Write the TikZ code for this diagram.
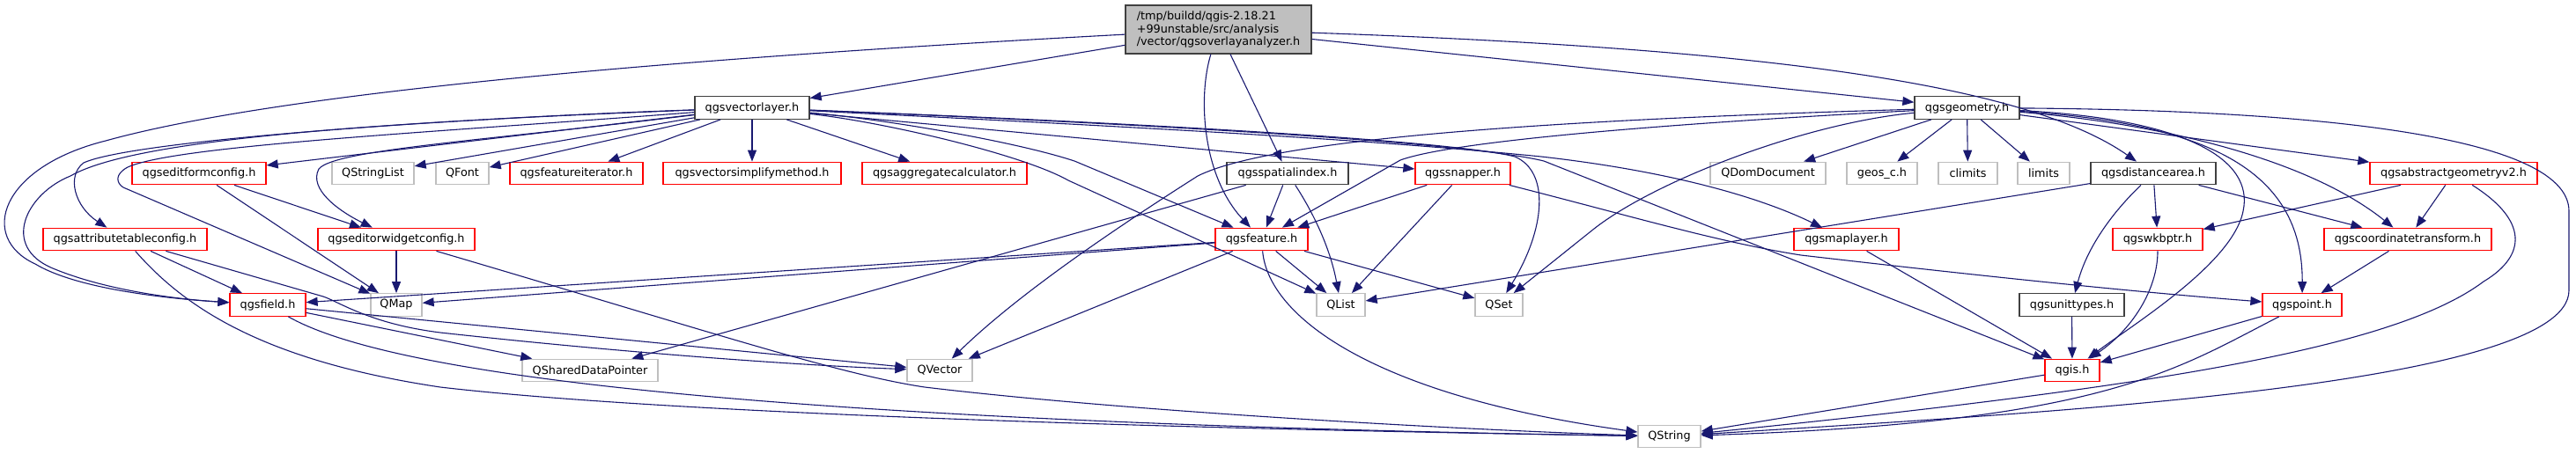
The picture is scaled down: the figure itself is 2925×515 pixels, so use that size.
\documentclass[tikz,border=0pt]{standalone}
\usepackage{fontspec}
\setmainfont{DejaVu Sans}
\usetikzlibrary{arrows.meta}
\definecolor{edgecol}{RGB}{25,25,112}
\definecolor{greyb}{RGB}{191,191,191}
\definecolor{darkb}{RGB}{64,64,64}
\definecolor{redb}{RGB}{255,0,0}
\begin{document}
\begin{tikzpicture}[x=1pt,y=-1pt,
  box/.style={draw, rectangle, inner xsep=3pt, inner ysep=0pt, minimum height=25.5pt, line width=1.3pt, fill=white, font=\fontsize{12.8}{15}\selectfont, text=black},
  rbox/.style={box, draw=redb},
  gbox/.style={box, draw=greyb},
  bbox/.style={box, draw=darkb},
  dep/.style={draw=edgecol, line width=1.1pt, -{Triangle[length=13pt,width=10pt]}}]
\useasboundingbox (0,0) rectangle (2925,515);
% nodes
\node[bbox, fill=greyb, minimum width=211pt, minimum height=55pt, align=left, font=\fontsize{12.8}{14.5}\selectfont] (main) at (1383.5,33.5) {/tmp/buildd/qgis-2.18.21\\+99unstable/src/analysis\\/vector/qgsoverlayanalyzer.h};
\node[bbox, minimum width=130pt] (vl) at (854,122.5) {qgsvectorlayer.h};
\node[bbox, minimum width=119pt] (geom) at (2233.5,122.5) {qgsgeometry.h};
\node[rbox, minimum width=152pt] (efc) at (226,197) {qgseditformconfig.h};
\node[gbox, minimum width=93pt] (qsl) at (423.5,197) {QStringList};
\node[gbox, minimum width=60pt] (qfont) at (525,197) {QFont};
\node[rbox, minimum width=151pt] (fit) at (654.5,197) {qgsfeatureiterator.h};
\node[rbox, minimum width=202pt] (vsm) at (854,197) {qgsvectorsimplifymethod.h};
\node[rbox, minimum width=187pt] (agg) at (1072.5,197) {qgsaggregatecalculator.h};
\node[bbox, minimum width=138pt] (sidx) at (1462,197) {qgsspatialindex.h};
\node[rbox, minimum width=108pt] (snap) at (1661,197) {qgssnapper.h};
\node[gbox, minimum width=131pt] (qdom) at (2007.5,197) {QDomDocument};
\node[gbox, minimum width=80pt] (geos) at (2137,197) {geos\_c.h};
\node[gbox, minimum width=67pt] (climits) at (2234.5,197) {climits};
\node[gbox, minimum width=59pt] (limits) at (2320.5,197) {limits};
\node[bbox, minimum width=142pt] (dist) at (2445,197) {qgsdistancearea.h};
\node[rbox, minimum width=190pt] (agv2) at (2786,197) {qgsabstractgeometryv2.h};
\node[rbox, minimum width=186pt] (atc) at (142,272) {qgsattributetableconfig.h};
\node[rbox, minimum width=178pt] (ewc) at (450,272) {qgseditorwidgetconfig.h};
\node[rbox, minimum width=105pt] (feat) at (1432.5,272) {qgsfeature.h};
\node[rbox, minimum width=119pt] (mapl) at (2096.5,272) {qgsmaplayer.h};
\node[rbox, minimum width=102pt] (wkb) at (2450,272) {qgswkbptr.h};
\node[rbox, minimum width=190pt] (ct) at (2734,272) {qgscoordinatetransform.h};
\node[rbox, minimum width=86pt] (field) at (304,346.5) {qgsfield.h};
\node[gbox, minimum width=58pt] (qmap) at (450,346.5) {QMap};
\node[gbox, minimum width=55pt] (qlist) at (1522.5,346.5) {QList};
\node[gbox, minimum width=54pt] (qset) at (1702,346.5) {QSet};
\node[bbox, minimum width=119pt] (ut) at (2352.5,346.5) {qgsunittypes.h};
\node[rbox, minimum width=90pt] (pt) at (2614,346.5) {qgspoint.h};
\node[gbox, minimum width=154pt] (qsdp) at (670,421) {QSharedDataPointer};
\node[gbox, minimum width=74pt] (qvec) at (1067,421) {QVector};
\node[rbox, minimum width=62pt] (qgis) at (2353,421) {qgis.h};
\node[gbox, minimum width=71pt] (qstr) at (1895.5,496) {QString};
% main
\draw[dep] (main) -- (vl);
\draw[dep] (main) -- (geom);
\draw[dep] (main) .. controls (1360,110) and (1365,200) .. (feat);
\draw[dep] (main) -- (sidx);
\draw[dep] (main) .. controls (2000,55) and (2300,95) .. (dist);
\draw[dep] (main) .. controls (700,70) and (300,110) .. (120,160) .. controls (0,190) and (-25,270) .. (40,300) .. controls (90,330) and (200,340) .. (field);
% qgsvectorlayer
\draw[dep] (vl) .. controls (400,140) and (150,160) .. (80,200) .. controls (30,220) and (0,280) .. (60,305) .. controls (120,330) and (200,340) .. (field);
\draw[dep] (vl) .. controls (500,135) and (150,160) .. (95,185) .. controls (75,200) and (85,235) .. (atc);
\draw[dep] (vl) .. controls (500,150) and (200,165) .. (145,190) .. controls (130,198) and (132,208) .. (140,213) -- (qmap);
\draw[dep] (vl) .. controls (550,160) and (380,170) .. (362,192) .. controls (350,215) and (385,240) .. (ewc);
\draw[dep] (vl) -- (efc);
\draw[dep] (vl) -- (qsl);
\draw[dep] (vl) -- (qfont);
\draw[dep] (vl) -- (fit);
\draw[dep] (vl) -- (vsm);
\draw[dep] (vl) -- (agg);
\draw[dep] (vl) .. controls (1000,135) and (1150,160) .. (1220,183) -- (feat);
\draw[dep] (vl) .. controls (1000,138) and (1160,175) .. (1213,205) -- (qlist);
\draw[dep] (vl) .. controls (1300,140) and (1650,160) .. (1720,178) .. controls (1760,195) and (1755,260) .. (qset);
\draw[dep] (vl) -- (snap);
\draw[dep] (vl) .. controls (1300,145) and (1550,158) .. (1750,178) .. controls (1900,195) and (2000,225) .. (mapl);
\draw[dep] (vl) .. controls (1400,145) and (1680,165) .. (1753,183) -- (qgis);
% qgsgeometry
\draw[dep] (geom) -- (qdom);
\draw[dep] (geom) -- (geos);
\draw[dep] (geom) -- (climits);
\draw[dep] (geom) -- (limits);
\draw[dep] (geom) -- (agv2);
\draw[dep] (geom) .. controls (2050,140) and (1880,205) .. (1810,260) -- (qset);
\draw[dep] (geom) .. controls (1900,140) and (1650,160) .. (1590,182) -- (feat);
\draw[dep] (geom) .. controls (1800,135) and (1450,155) .. (1360,200) .. controls (1250,270) and (1150,340) .. (qvec);
\draw[dep] (geom) .. controls (2450,140) and (2620,180) .. (ct);
\draw[dep] (geom) .. controls (2500,140) and (2615,190) .. (pt);
\draw[dep] (geom) .. controls (2480,135) and (2560,180) .. (2547,240) .. controls (2535,300) and (2420,370) .. (qgis);
\draw[dep] (geom) .. controls (2600,125) and (2917,150) .. (2917,240) -- (2917,330) .. controls (2917,440) and (2300,470) .. (qstr);
% qgsspatialindex
\draw[dep] (sidx) -- (feat);
\draw[dep] (sidx) .. controls (1490,240) and (1510,280) .. (qlist);
\draw[dep] (sidx) -- (qsdp);
% qgssnapper
\draw[dep] (snap) -- (feat);
\draw[dep] (snap) -- (qlist);
\draw[dep] (snap) .. controls (1850,245) and (1950,275) .. (2045,290) .. controls (2200,308) and (2400,330) .. (pt);
% qgsfeature
\draw[dep] (feat) -- (field);
\draw[dep] (feat) -- (qmap);
\draw[dep] (feat) -- (qvec);
\draw[dep] (feat) -- (qlist);
\draw[dep] (feat) -- (qset);
\draw[dep] (feat) .. controls (1440,360) and (1560,450) .. (qstr);
% qgsfield
\draw[dep] (field) -- (qsdp);
\draw[dep] (field) -- (qvec);
\draw[dep] (field) .. controls (450,430) and (900,480) .. (qstr);
% qgsattributetableconfig
\draw[dep] (atc) -- (field);
\draw[dep] (atc) -- (367,337) .. controls (385,343) and (420,368) .. (500,378) .. controls (700,400) and (900,415) .. (qvec);
\draw[dep] (atc) .. controls (210,350) and (300,410) .. (500,440) .. controls (800,475) and (1500,490) .. (qstr);
% qgseditorwidgetconfig / qgseditformconfig
\draw[dep] (ewc) -- (qmap);
\draw[dep] (ewc) .. controls (800,375) and (950,425) .. (1050,440) .. controls (1300,470) and (1700,490) .. (qstr);
\draw[dep] (efc) -- (qmap);
\draw[dep] (efc) -- (ewc);
% qgsdistancearea
\draw[dep] (dist) -- (qlist);
\draw[dep] (dist) .. controls (2400,240) and (2370,280) .. (ut);
\draw[dep] (dist) -- (wkb);
\draw[dep] (dist) -- (ct);
% qgsabstractgeometryv2
\draw[dep] (agv2) -- (wkb);
\draw[dep] (agv2) -- (ct);
\draw[dep] (agv2) .. controls (2870,250) and (2870,290) .. (2820,320) .. controls (2720,395) and (2450,440) .. (qstr);
% others
\draw[dep] (ct) -- (pt);
\draw[dep] (pt) -- (qgis);
\draw[dep] (pt) .. controls (2470,420) and (2390,480) .. (qstr);
\draw[dep] (wkb) .. controls (2450,330) and (2420,375) .. (qgis);
\draw[dep] (ut) -- (qgis);
\draw[dep] (mapl) -- (qgis);
\draw[dep] (qgis) -- (qstr);
\end{tikzpicture}
\end{document}
